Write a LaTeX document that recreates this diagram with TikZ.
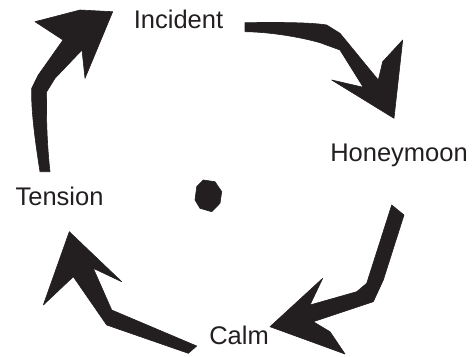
\documentclass[tikz,border=0pt]{standalone}
\usepackage{fontspec}
\setmainfont{Liberation Sans}
\definecolor{ink}{HTML}{231F20}
\begin{document}
\begin{tikzpicture}[x=1pt,y=-1pt,
  lbl/.style={anchor=base,inner sep=0pt,text=ink,font=\fontsize{25.5}{30}\selectfont},
  blade/.style={fill=ink,draw=ink,line width=0.6pt,line join=round}]
\useasboundingbox (0,0) rectangle (473,356);
% labels
\node[lbl] (incident) at (178.5,28) {Incident};
\node[lbl] (honeymoon) at (399,161) {Honeymoon};
\node[lbl] (calm) at (239,344) {Calm};
\node[lbl] (tension) at (59.5,205) {Tension};
% top-right arrow
\path[blade] (245,22.7) .. controls (290,22) and (315,23) .. (326.7,25)
  -- (340,33.3) -- (378.3,80) -- (382.7,61.7) -- (402.7,40) -- (394,118.3)
  -- (331.7,80) -- (363.3,87.3) -- (340,50) -- (320,42.7)
  .. controls (300,37) and (270,32) .. (245,31.7) -- cycle;
% bottom-right arrow
\path[blade] (404,215) -- (383.3,280) -- (373.3,301.7) -- (313.3,321.7)
  -- (330,331.7) -- (345,354) -- (270,326.7) -- (322.7,278.3)
  -- (310,305) -- (356.7,291.7) -- (366.7,283.3) -- (391.7,205) -- cycle;
% bottom-left arrow
\path[blade] (69.3,231.7) -- (121.7,281.7) -- (93.3,268.3) -- (111.7,310)
  -- (196.7,346) -- (188.3,353.3) -- (106.7,325) -- (73.3,276.7)
  -- (43.3,305) -- cycle;
% top-left arrow
\path[blade] (40,171.7) .. controls (35,140) and (31,110) .. (31.7,88.3)
  -- (38.3,75) -- (63,40) -- (35,21.7) -- (80,10) -- (112.7,11.7)
  -- (85,78.3) -- (82,50) -- (55,78.3) -- (46.7,91.7)
  .. controls (46,115) and (47,145) .. (50,171.7) -- cycle;
% centre dot
\path[blade] (203.3,180) -- (215,181.7) -- (221.7,191.7) -- (220,203.3)
  -- (211.7,211.7) -- (200,208.3) -- (195,200) -- (196.7,186.7) -- cycle;
\end{tikzpicture}
\end{document}
